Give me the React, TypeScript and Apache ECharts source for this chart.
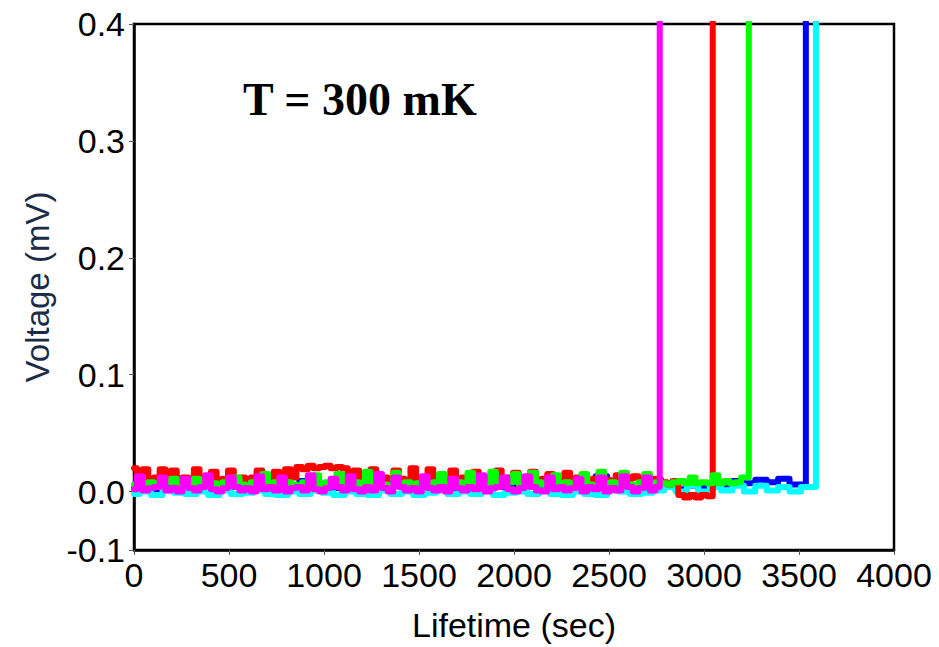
import React, { useEffect, useRef } from "react";
import * as echarts from "echarts";

// Sampling intervals (sec) of the recorded traces
const STEP_FAST = 30;
const STEP_SLOW = 60;

// Voltage traces in µV (converted to mV when plotted), before each switching event
const RED_UV = [
  20, 11, 19, 10, 12, 19, 10, 18, 9, 12, 10, 19, 9, 12, 17, 10, 11, 18, 10, 12,
  9, 12, 18, 10, 12, 17, 10, 19, 12, 21, 19, 22, 20, 21, 22, 20, 21, 20, 11, 18,
  10, 12, 19, 9, 12, 10, 18, 11, 9, 20, 10, 12, 19, 10, 9, 12, 18, 10, 12, 9,
  17, 10, 12, 9, 18, 9, 12, 16, 10, 12, 17, 10, 11, 15, 10, 9, 16, 10, 12, 14,
  10, 11, 15, 10, 9, 14, 10, 11, 13, 10, 9, 11, 10,
  8, 6, 9, -3, -5, -3, -5, -3, -4,
];
const GREEN_UV = [
  6, 12, 5, 8, 7, 5, 8, 11, 5, 8, 6, 11, 6, 8, 7, 5, 8, 6, 12, 6,
  5, 8, 6, 15, 5, 8, 6, 8, 6, 5, 8, 6, 14, 6, 8, 5, 15, 6, 5, 8,
  5, 17, 6, 8, 6, 5, 16, 6, 8, 5, 7, 8, 5, 8, 15, 6, 5, 8, 6, 16,
  5, 8, 6, 17, 5, 6, 8, 15, 6, 5, 16, 8, 6, 6, 14, 5, 8, 6, 6, 15,
  6, 5, 17, 6, 8, 5, 16, 6, 5, 8, 15, 6, 8,
  7, 6, 8, 9, 7, 12, 7, 8, 7, 14, 7, 9, 7, 8, 12,
];
const MAGENTA_UV = [
  2, 13, 1, 3, 4, 12, 1, 3, 0, 11, 3, 1, 4, 14, 2, 0, 3, 12, 4, 1,
  3, 0, 13, 2, 4, 1, 12, 0, 3, 4, 1, 14, 2, 0, 3, 11, 4, 1, 13, 2,
  0, 4, 1, 15, 3, 0, 12, 4, 1, 3, 0, 13, 3, 1, 4, 0, 11, 3, 1, 4,
  2, 14, 0, 3, 4, 12, 2, 0, 3, 13, 4, 1, 0, 12, 2, 4, 1, 3, 11, 0,
  4, 2, 12, 0, 3, 1, 13, 4, 0, 3, 12, 1, 4,
];
const BLUE_UV = [
  3, 4, 2, 5, 3, 4, 8, 3, 2, 4,
  3, 5, 2, 4, 3, 9, 2, 4, 3, 5,
  2, 4, 3, 10, 2, 3, 5, 4, 2, 3,
  4, 2, 5, 3, 12, 4, 2, 3, 5, 2,
  4, 13, 3, 2, 4, 5, 3, 4, 2, 5,
  3, 4, 6, 9, 7, 10, 8, 11, 6,
];
const CYAN_UV = [
  -2, 0, -3, 1, -1, -2, 0, -3, 1, -2,
  -1, 1, -2, -3, 0, -2, 1, -1, -3, 0,
  -2, -3, 1, -2, 0, -3, -1, 1, -2, 0,
  -2, 1, -3, -1, 0, -2, 1, -2, -3, 0,
  -2, -3, 1, 0, -2, -1, 1, 4, 0, 5,
  0, 4, 1, 5, 0, 5, 1, 4, 0, 4,
];

// Switching times (sec) where each trace jumps off-scale
const SWITCH_TIMES = { magenta: 2767, red: 3046, green: 3236, blue: 3536, cyan: 3589 };
const SWITCHED_MV = 0.5;

// Axis ticks
const X_TICKS = [0, 500, 1000, 1500, 2000, 2500, 3000, 3500, 4000];
const Y_TICK_VALUES = [-0.05, 0, 0.1, 0.2, 0.3, 0.4];
const Y_TICK_LABELS = ["-0.1", "0.0", "0.1", "0.2", "0.3", "0.4"];

function buildTrace(values: number[], step: number, switchTime: number) {
  const pts: number[][] = values.map((v, i) => [i * step, v / 1000]);
  const last = values[values.length - 1] / 1000;
  pts.push([switchTime, last]);
  pts.push([switchTime, SWITCHED_MV]);
  return pts;
}

export default function App() {
  const ref = useRef<HTMLDivElement>(null);
  useEffect(() => {
    if (!ref.current) return;
    const chart = echarts.init(ref.current, null, { renderer: "svg" });
    const font = 'Arial, "Liberation Sans", sans-serif';
    const mk = (name: string, color: string, data: number[][]) => ({
      name,
      type: "line",
      data,
      step: "middle",
      showSymbol: false,
      symbol: "none",
      clip: true,
      lineStyle: { color, width: 6, join: "round", cap: "round" },
      emphasis: { disabled: true },
    });
    chart.setOption({
      animation: false,
      backgroundColor: "#ffffff",
      grid: {
        left: 134,
        right: 45,
        top: 24,
        bottom: 97,
        show: true,
        borderColor: "#000",
        borderWidth: 2.5,
        backgroundColor: "transparent",
      },
      xAxis: {
        type: "value",
        min: 0,
        max: 4000,
        interval: 500,
        name: "Lifetime (sec)",
        nameLocation: "middle",
        nameGap: 58,
        nameTextStyle: { fontSize: 34, fontFamily: font, color: "#000" },
        axisLine: { show: true, onZero: false, lineStyle: { color: "#000", width: 2.5 } },
        axisTick: { show: true, length: 5, lineStyle: { color: "#555", width: 1 }, customValues: X_TICKS },
        axisLabel: {
          fontSize: 34,
          fontFamily: font,
          color: "#000",
          margin: 8,
          customValues: X_TICKS,
          formatter: (v: number) => String(v),
        },
        splitLine: { show: false },
      },
      yAxis: {
        type: "value",
        min: -0.05,
        max: 0.4,
        name: "Voltage (mV)",
        nameLocation: "middle",
        nameGap: 80,
        nameRotate: 90,
        nameTextStyle: { fontSize: 33, fontFamily: font, color: "#1b2c48" },
        axisLine: { show: true, onZero: false, lineStyle: { color: "#000", width: 2.5 } },
        axisTick: { show: true, length: 5, lineStyle: { color: "#555", width: 1 }, customValues: Y_TICK_VALUES },
        axisLabel: {
          fontSize: 34,
          fontFamily: font,
          color: "#000",
          margin: 9,
          customValues: Y_TICK_VALUES,
          formatter: (v: number) => {
            const i = Y_TICK_VALUES.findIndex((t) => Math.abs(t - v) < 1e-9);
            return i >= 0 ? Y_TICK_LABELS[i] : "";
          },
        },
        splitLine: { show: false },
      },
      graphic: [
        {
          type: "text",
          left: 243,
          top: 76,
          style: {
            text: "T = 300 mK",
            fontSize: 46,
            fontWeight: "bold",
            fontFamily: '"Times New Roman", "Liberation Serif", serif',
            fill: "#000",
          },
        },
      ],
      series: [
        mk("blue", "#0000ff", buildTrace(BLUE_UV, STEP_SLOW, SWITCH_TIMES.blue)),
        mk("cyan", "#00ffff", buildTrace(CYAN_UV, STEP_SLOW, SWITCH_TIMES.cyan)),
        mk("red", "#ff0000", buildTrace(RED_UV, STEP_FAST, SWITCH_TIMES.red)),
        mk("green", "#00ff00", buildTrace(GREEN_UV, STEP_FAST, SWITCH_TIMES.green)),
        mk("magenta", "#ff00ff", buildTrace(MAGENTA_UV, STEP_FAST, SWITCH_TIMES.magenta)),
      ],
    });
    return () => chart.dispose();
  }, []);
  return (
    <div
      ref={ref}
      style={{ position: "fixed", left: 0, top: 0, width: 939, height: 647, background: "#fff" }}
    />
  );
}
